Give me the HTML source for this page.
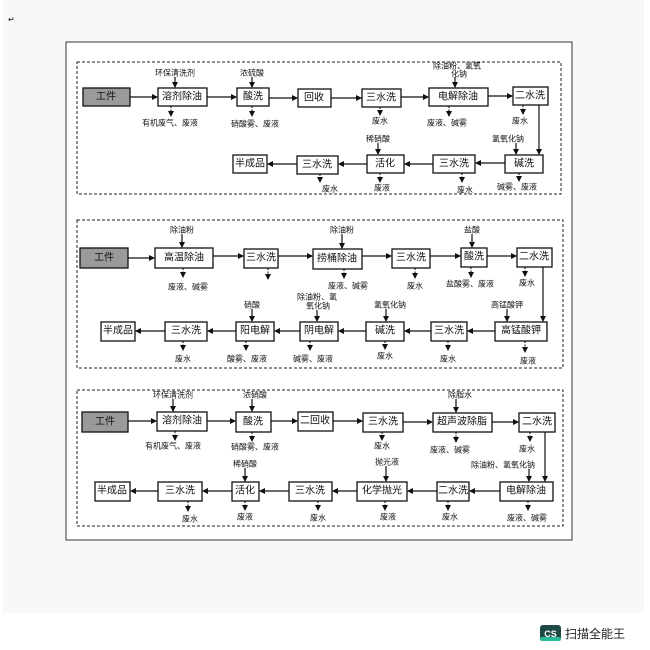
<!DOCTYPE html>
<html><head><meta charset="utf-8"><style>
html,body{margin:0;padding:0;background:#fff;width:650px;height:650px;overflow:hidden}
svg text{font-family:"Liberation Sans","Noto Sans CJK SC",sans-serif;fill:#111}
.b{fill:#fff;stroke:#111;stroke-width:1.3}
.g{fill:#9a9a9a;stroke:#111;stroke-width:1.3}
.t{font-size:10px;text-anchor:middle;dominant-baseline:central}
.l{font-size:8px;text-anchor:middle;dominant-baseline:central}
.a{stroke:#111;stroke-width:1.2;fill:none;marker-end:url(#ah)}
.d{stroke:#111;stroke-width:1.1;fill:none;stroke-dasharray:2,1.5;marker-end:url(#ah)}
.box{fill:none;stroke:#222;stroke-width:1;stroke-dasharray:3,2}
</style></head><body>
<svg width="650" height="650" viewBox="0 0 650 650" xmlns="http://www.w3.org/2000/svg">
<defs><marker id="ah" markerWidth="6" markerHeight="6" refX="5" refY="3" orient="auto" markerUnits="userSpaceOnUse"><path d="M0,0 L6,3 L0,6 z" fill="#111"/></marker></defs>
<rect x="3" y="0" width="641" height="613" fill="#f8f8f8"/>
<text x="8" y="22" style="font-size:8px">↵</text>
<rect x="66" y="42" width="506" height="498" fill="#fff" stroke="#333" stroke-width="1"/>

<!-- Diagram 1 -->
<rect class="box" x="77" y="62" width="484" height="132"/>
<rect class="g" x="83" y="88" width="47" height="18"/><text class="t" x="106" y="97">工件</text>
<rect class="b" x="158" y="88" width="49" height="18"/><text class="t" x="182" y="97">溶剂除油</text>
<rect class="b" x="237" y="88" width="32" height="18"/><text class="t" x="253" y="97">酸洗</text>
<rect class="b" x="298" y="89" width="33" height="18"/><text class="t" x="314" y="98">回收</text>
<rect class="b" x="362" y="89" width="39" height="18"/><text class="t" x="381" y="98">三水洗</text>
<rect class="b" x="429" y="88" width="59" height="18"/><text class="t" x="458" y="97">电解除油</text>
<rect class="b" x="513" y="87" width="35" height="18"/><text class="t" x="530" y="96">二水洗</text>
<line class="a" x1="130" y1="97" x2="157" y2="97"/>
<line class="a" x1="207" y1="97" x2="236" y2="97"/>
<line class="a" x1="269" y1="98" x2="297" y2="98"/>
<line class="a" x1="331" y1="98" x2="361" y2="98"/>
<line class="a" x1="401" y1="97" x2="428" y2="97"/>
<line class="a" x1="488" y1="96" x2="512" y2="96"/>
<text class="l" x="175" y="73">环保清洗剂</text><line class="a" x1="175" y1="77" x2="175" y2="87"/>
<text class="l" x="252" y="73">浓硫酸</text><line class="a" x1="252" y1="77" x2="252" y2="87"/>
<text class="l" x="457" y="66">除油粉、氢氧</text><text class="l" x="459" y="74">化钠</text><line class="a" x1="455" y1="77" x2="455" y2="87"/>
<line class="d" x1="171" y1="106" x2="171" y2="116"/><text class="l" x="170" y="123">有机废气、废液</text>
<line class="d" x1="252" y1="106" x2="252" y2="116"/><text class="l" x="255" y="124">硝酸雾、废液</text>
<line class="d" x1="380" y1="107" x2="380" y2="115"/><text class="l" x="380" y="121">废水</text>
<line class="d" x1="449" y1="106" x2="449" y2="116"/><text class="l" x="447" y="123">废液、碱雾</text>
<line class="d" x1="523" y1="105" x2="523" y2="114"/><text class="l" x="520" y="121">废水</text>
<polyline class="a" points="539,105 539,154"/>
<rect class="b" x="233" y="155" width="34" height="18"/><text class="t" x="250" y="164">半成品</text>
<rect class="b" x="297" y="156" width="41" height="18"/><text class="t" x="317" y="165">三水洗</text>
<rect class="b" x="367" y="155" width="37" height="18"/><text class="t" x="385" y="164">活化</text>
<rect class="b" x="433" y="155" width="42" height="18"/><text class="t" x="454" y="164">三水洗</text>
<rect class="b" x="505" y="155" width="38" height="18"/><text class="t" x="524" y="164">碱洗</text>
<line class="a" x1="505" y1="163" x2="476" y2="163"/>
<line class="a" x1="433" y1="164" x2="405" y2="164"/>
<line class="a" x1="367" y1="164" x2="339" y2="164"/>
<line class="a" x1="297" y1="164" x2="268" y2="164"/>
<text class="l" x="508" y="139">氢氧化钠</text><line class="a" x1="516" y1="143" x2="516" y2="154"/>
<text class="l" x="378" y="139">稀硝酸</text><line class="a" x1="378" y1="143" x2="378" y2="154"/>
<line class="d" x1="320" y1="174" x2="320" y2="182"/><text class="l" x="330" y="189">废水</text>
<line class="d" x1="380" y1="173" x2="380" y2="182"/><text class="l" x="382" y="188">废液</text>
<line class="d" x1="462" y1="173" x2="462" y2="182"/><text class="l" x="465" y="190">废水</text>
<line class="d" x1="519" y1="173" x2="519" y2="181"/><text class="l" x="517" y="187">碱雾、废液</text>

<!-- Diagram 2 -->
<rect class="box" x="77" y="220" width="486" height="148"/>
<rect class="g" x="80" y="248" width="48" height="20"/><text class="t" x="104" y="258">工件</text>
<rect class="b" x="155" y="248" width="58" height="20"/><text class="t" x="184" y="258">高温除油</text>
<rect class="b" x="244" y="249" width="34" height="19"/><text class="t" x="261" y="258">三水洗</text>
<rect class="b" x="313" y="249" width="49" height="20"/><text class="t" x="337" y="259">捞桶除油</text>
<rect class="b" x="392" y="249" width="38" height="19"/><text class="t" x="411" y="258">三水洗</text>
<rect class="b" x="461" y="248" width="26" height="19"/><text class="t" x="474" y="257">酸洗</text>
<rect class="b" x="517" y="248" width="35" height="19"/><text class="t" x="534" y="257">二水洗</text>
<line class="a" x1="128" y1="258" x2="154" y2="258"/>
<line class="a" x1="213" y1="256" x2="243" y2="256"/>
<line class="a" x1="278" y1="256" x2="312" y2="256"/>
<line class="a" x1="362" y1="256" x2="391" y2="256"/>
<line class="a" x1="430" y1="256" x2="460" y2="256"/>
<line class="a" x1="487" y1="256" x2="516" y2="256"/>
<text class="l" x="182" y="230">除油粉</text><line class="a" x1="182" y1="234" x2="182" y2="247"/>
<text class="l" x="342" y="230">除油粉</text><line class="a" x1="342" y1="234" x2="342" y2="248"/>
<text class="l" x="472" y="230">盐酸</text><line class="a" x1="472" y1="234" x2="472" y2="247"/>
<line class="d" x1="183" y1="268" x2="183" y2="277"/><text class="l" x="188" y="287">废液、碱雾</text>
<line class="d" x1="268" y1="268" x2="268" y2="279"/>
<line class="d" x1="344" y1="269" x2="344" y2="278"/><text class="l" x="348" y="286">废液、碱雾</text>
<line class="d" x1="415" y1="268" x2="415" y2="278"/><text class="l" x="415" y="286">废水</text>
<line class="d" x1="471" y1="267" x2="471" y2="277"/><text class="l" x="470" y="284">盐酸雾、废液</text>
<line class="d" x1="525" y1="267" x2="525" y2="276"/><text class="l" x="527" y="283">废水</text>
<polyline class="a" points="543,267 543,321"/>
<rect class="b" x="101" y="322" width="34" height="19"/><text class="t" x="118" y="331">半成品</text>
<rect class="b" x="165" y="322" width="42" height="19"/><text class="t" x="186" y="331">三水洗</text>
<rect class="b" x="236" y="322" width="38" height="19"/><text class="t" x="255" y="331">阳电解</text>
<rect class="b" x="300" y="322" width="38" height="19"/><text class="t" x="319" y="331">阴电解</text>
<rect class="b" x="366" y="322" width="38" height="19"/><text class="t" x="385" y="331">碱洗</text>
<rect class="b" x="431" y="322" width="36" height="19"/><text class="t" x="449" y="331">三水洗</text>
<rect class="b" x="495" y="322" width="52" height="19"/><text class="t" x="521" y="331">高锰酸钾</text>
<line class="a" x1="495" y1="331" x2="468" y2="331"/>
<line class="a" x1="431" y1="331" x2="405" y2="331"/>
<line class="a" x1="366" y1="331" x2="339" y2="331"/>
<line class="a" x1="300" y1="331" x2="275" y2="331"/>
<line class="a" x1="236" y1="331" x2="208" y2="331"/>
<line class="a" x1="165" y1="331" x2="136" y2="331"/>
<text class="l" x="252" y="305">硝酸</text><line class="a" x1="252" y1="309" x2="252" y2="321"/>
<text class="l" x="317" y="297">除油粉、氢</text><text class="l" x="318" y="306">氧化钠</text><line class="a" x1="317" y1="310" x2="317" y2="321"/>
<text class="l" x="390" y="305">氢氧化钠</text><line class="a" x1="386" y1="309" x2="386" y2="321"/>
<text class="l" x="507" y="305">高锰酸钾</text><line class="a" x1="507" y1="309" x2="507" y2="321"/>
<line class="d" x1="183" y1="341" x2="183" y2="350"/><text class="l" x="183" y="359">废水</text>
<line class="d" x1="246" y1="341" x2="246" y2="350"/><text class="l" x="247" y="359">酸雾、废液</text>
<line class="d" x1="310" y1="341" x2="310" y2="350"/><text class="l" x="313" y="359">碱雾、废液</text>
<line class="d" x1="385" y1="341" x2="385" y2="349"/><text class="l" x="385" y="356">废水</text>
<line class="d" x1="448" y1="341" x2="448" y2="350"/><text class="l" x="448" y="359">废水</text>
<line class="d" x1="525" y1="341" x2="525" y2="352"/><text class="l" x="528" y="361">废液</text>

<!-- Diagram 3 -->
<rect class="box" x="77" y="390" width="486" height="136"/>
<rect class="g" x="82" y="412" width="46" height="20"/><text class="t" x="105" y="422">工件</text>
<rect class="b" x="157" y="412" width="50" height="19"/><text class="t" x="182" y="421">溶剂除油</text>
<rect class="b" x="236" y="412" width="35" height="20"/><text class="t" x="253" y="422">酸洗</text>
<rect class="b" x="298" y="412" width="35" height="19"/><text class="t" x="315" y="421">二回收</text>
<rect class="b" x="363" y="413" width="40" height="19"/><text class="t" x="383" y="422">三水洗</text>
<rect class="b" x="433" y="413" width="59" height="19"/><text class="t" x="462" y="422">超声波除脂</text>
<rect class="b" x="519" y="413" width="36" height="19"/><text class="t" x="537" y="422">二水洗</text>
<line class="a" x1="128" y1="421" x2="156" y2="421"/>
<line class="a" x1="207" y1="421" x2="235" y2="421"/>
<line class="a" x1="271" y1="421" x2="297" y2="421"/>
<line class="a" x1="333" y1="421" x2="362" y2="421"/>
<line class="a" x1="403" y1="422" x2="432" y2="422"/>
<line class="a" x1="492" y1="422" x2="518" y2="422"/>
<text class="l" x="173" y="395">环保清洗剂</text><line class="a" x1="173" y1="399" x2="173" y2="411"/>
<text class="l" x="255" y="395">浓硝酸</text><line class="a" x1="252" y1="399" x2="252" y2="411"/>
<text class="l" x="460" y="395">除脂水</text><line class="a" x1="456" y1="399" x2="456" y2="412"/>
<line class="d" x1="175" y1="431" x2="175" y2="440"/><text class="l" x="173" y="446">有机废气、废液</text>
<line class="d" x1="252" y1="432" x2="252" y2="441"/><text class="l" x="255" y="447">硝酸雾、废液</text>
<line class="d" x1="382" y1="432" x2="382" y2="440"/><text class="l" x="382" y="446">废水</text>
<line class="d" x1="456" y1="432" x2="456" y2="442"/><text class="l" x="450" y="450">废液、碱雾</text>
<line class="d" x1="530" y1="432" x2="530" y2="441"/><text class="l" x="527" y="449">废水</text>
<polyline class="a" points="545,432 545,481"/>
<rect class="b" x="95" y="482" width="35" height="19"/><text class="t" x="112" y="491">半成品</text>
<rect class="b" x="158" y="482" width="44" height="19"/><text class="t" x="180" y="491">三水洗</text>
<rect class="b" x="232" y="482" width="27" height="19"/><text class="t" x="245" y="491">活化</text>
<rect class="b" x="289" y="482" width="43" height="19"/><text class="t" x="310" y="491">三水洗</text>
<rect class="b" x="357" y="482" width="50" height="19"/><text class="t" x="382" y="491">化学抛光</text>
<rect class="b" x="437" y="482" width="32" height="19"/><text class="t" x="453" y="491">二水洗</text>
<rect class="b" x="500" y="482" width="53" height="19"/><text class="t" x="526" y="491">电解除油</text>
<line class="a" x1="500" y1="491" x2="470" y2="491"/>
<line class="a" x1="437" y1="491" x2="408" y2="491"/>
<line class="a" x1="357" y1="491" x2="333" y2="491"/>
<line class="a" x1="289" y1="491" x2="260" y2="491"/>
<line class="a" x1="232" y1="491" x2="203" y2="491"/>
<line class="a" x1="158" y1="491" x2="131" y2="491"/>
<text class="l" x="245" y="464">稀硝酸</text><line class="a" x1="245" y1="468" x2="245" y2="481"/>
<text class="l" x="387" y="462">抛光液</text><line class="a" x1="386" y1="466" x2="386" y2="481"/>
<text class="l" x="503" y="465">除油粉、氢氧化钠</text><line class="a" x1="529" y1="469" x2="529" y2="481"/>
<line class="d" x1="188" y1="501" x2="188" y2="511"/><text class="l" x="190" y="519">废水</text>
<line class="d" x1="245" y1="501" x2="245" y2="510"/><text class="l" x="245" y="517">废液</text>
<line class="d" x1="318" y1="501" x2="318" y2="510"/><text class="l" x="318" y="518">废水</text>
<line class="d" x1="385" y1="501" x2="385" y2="510"/><text class="l" x="388" y="517">废液</text>
<line class="d" x1="448" y1="501" x2="448" y2="510"/><text class="l" x="450" y="517">废水</text>
<line class="d" x1="528" y1="501" x2="528" y2="510"/><text class="l" x="527" y="518">废液、碱雾</text>

<!-- logo -->
<rect x="540" y="625" width="21" height="16" rx="3" fill="#1d4a44"/>
<rect x="540" y="637" width="21" height="4" rx="2" fill="#2bb89a"/>
<text x="550.5" y="634" style="font-size:9px;font-weight:bold;fill:#fff;text-anchor:middle;dominant-baseline:central">CS</text>
<text x="565" y="634" style="font-size:12px;fill:#222;dominant-baseline:central">扫描全能王</text>
</svg>
</body></html>
